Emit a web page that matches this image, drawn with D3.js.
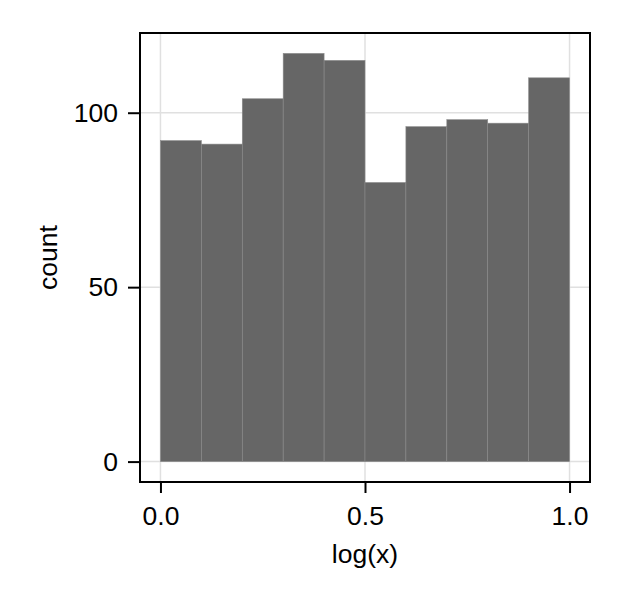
<!DOCTYPE html>
<html><head><meta charset="utf-8">
<script src="https://cdn.jsdelivr.net/npm/d3@7"></script>
<style>body{margin:0;background:#fff}svg text{font-family:"Liberation Sans",Arial,sans-serif}</style>
</head><body><svg id="c" width="622" height="600"></svg>
<script>
const binEdges = [0.0,0.1,0.2,0.3,0.4,0.5,0.6,0.7,0.8,0.9,1.0];
const counts = [92,91,104,117,115,80,96,98,97,110];
const xTicks = [0.0,0.5,1.0];
const xTickLabels = ["0.0","0.5","1.0"];
const yTicks = [0,50,100];
const yTickLabels = ["0","50","100"];

const svg = d3.select("#c");
const L=140,R=590,T=33,B=482;
const FS=26.5;
const x = d3.scaleLinear().domain([-0.05,1.05]).range([L,R]);
const yMax = d3.max(counts);
const y = d3.scaleLinear().domain([-0.05*yMax,1.05*yMax]).range([B,T]);

const g = svg.append("g");
// grid
g.selectAll(".gx").data(xTicks).enter().append("line")
 .attr("x1",d=>x(d)).attr("x2",d=>x(d)).attr("y1",T).attr("y2",B)
 .attr("stroke","#e0e0e0").attr("stroke-width",1.5);
g.selectAll(".gy").data(yTicks).enter().append("line")
 .attr("y1",d=>y(d)).attr("y2",d=>y(d)).attr("x1",L).attr("x2",R)
 .attr("stroke","#e0e0e0").attr("stroke-width",1.5);
// bars
g.selectAll(".bar").data(counts).enter().append("rect")
 .attr("x",(d,i)=>x(binEdges[i])).attr("width",(d,i)=>x(binEdges[i+1])-x(binEdges[i]))
 .attr("y",d=>y(d)).attr("height",d=>y(0)-y(d))
 .attr("fill","#666666").attr("stroke","#8a8a8a").attr("stroke-width",0.6);
// frame
svg.append("rect").attr("x",L).attr("y",T).attr("width",R-L).attr("height",B-T)
 .attr("fill","none").attr("stroke","#000").attr("stroke-width",2);
// x axis
const xa = svg.append("g").attr("transform",`translate(0,${B})`)
 .call(d3.axisBottom(x).tickValues(xTicks).tickFormat((d,i)=>xTickLabels[i]).tickSize(10).tickPadding(14));
xa.select(".domain").remove();
xa.selectAll("line").attr("stroke","#000").attr("stroke-width",2).attr("transform","translate(0,1)");
xa.selectAll("text").attr("font-size",FS).attr("fill","#000");
// y axis
const ya = svg.append("g").attr("transform",`translate(${L},0)`)
 .call(d3.axisLeft(y).tickValues(yTicks).tickFormat((d,i)=>yTickLabels[i]).tickSize(11).tickPadding(11));
ya.select(".domain").remove();
ya.selectAll("line").attr("stroke","#000").attr("stroke-width",2).attr("transform","translate(-1,0)");
ya.selectAll("text").attr("font-size",FS).attr("fill","#000");
// labels
svg.append("text").attr("x",(L+R)/2).attr("y",563).attr("text-anchor","middle")
 .attr("font-size",FS).text("log(x)");
svg.append("text").attr("transform",`translate(57,${(T+B)/2}) rotate(-90)`).attr("text-anchor","middle")
 .attr("font-size",FS).text("count");
</script></body></html>
